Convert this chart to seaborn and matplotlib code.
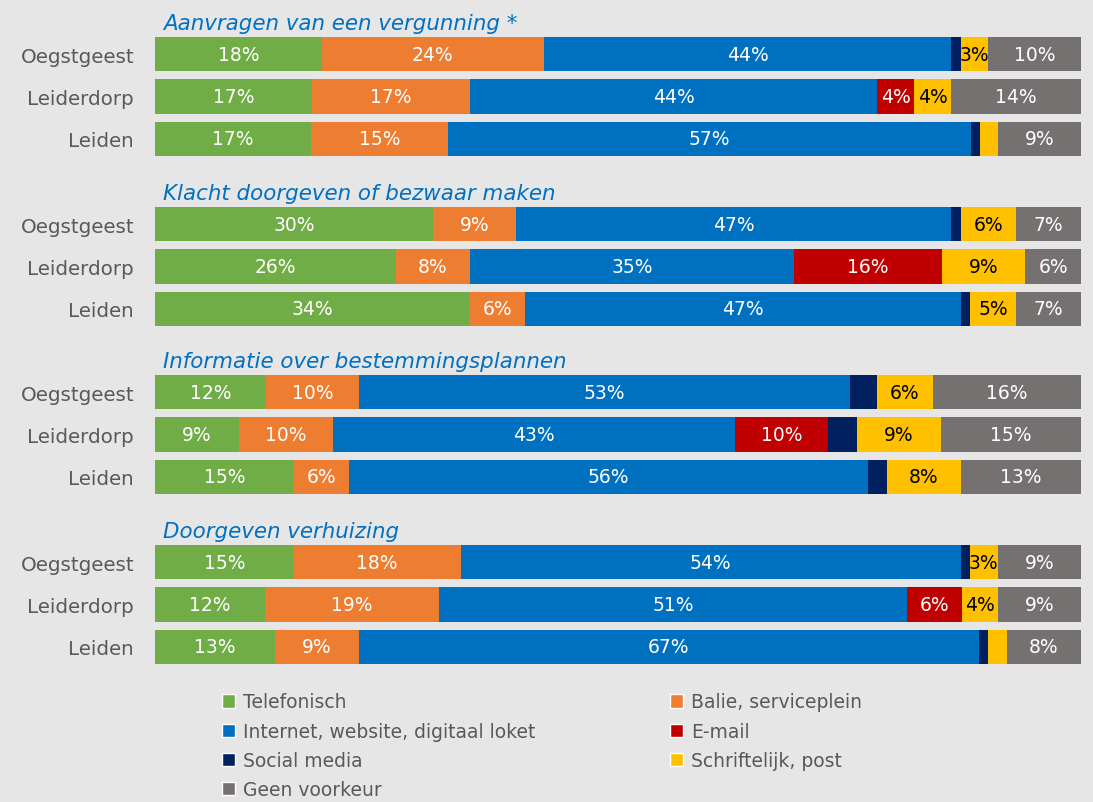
import numpy as np
import pandas as pd
import seaborn as sns
import matplotlib.pyplot as plt
from matplotlib.patches import Patch

# Panels and municipalities
panels = ["Aanvragen van een vergunning *",
          "Klacht doorgeven of bezwaar maken",
          "Informatie over bestemmingsplannen",
          "Doorgeven verhuizing"]
gemeenten = ["Oegstgeest", "Leiderdorp", "Leiden"]

channels = ["Telefonisch", "Balie, serviceplein", "Internet, website, digitaal loket",
            "E-mail", "Social media", "Schriftelijk, post", "Geen voorkeur"]
colors = ["#70ad47", "#ed7d31", "#0070c0", "#c00000", "#002060", "#ffc000", "#767171"]

# percentages, 12 values each: panel by panel, Oegstgeest / Leiderdorp / Leiden
telefonisch = [18, 17, 17, 30, 26, 34, 12, 9, 15, 15, 12, 13]
balie = [24, 17, 15, 9, 8, 6, 10, 10, 6, 18, 19, 9]
internet = [44, 44, 57, 47, 35, 47, 53, 43, 56, 54, 51, 67]
email = [0, 4, 0, 0, 16, 0, 0, 10, 0, 0, 6, 0]
social = [1, 0, 1, 1, 0, 1, 3, 3, 2, 1, 0, 1]
schriftelijk = [3, 4, 2, 6, 9, 5, 6, 9, 8, 3, 4, 2]
geen = [10, 14, 9, 7, 6, 7, 16, 15, 13, 9, 9, 8]

series = [telefonisch, balie, internet, email, social, schriftelijk, geen]

bg = "#e7e6e6"
sns.set_style("white")
plt.rcParams["font.family"] = ["DejaVu Sans"]

fig = plt.figure(figsize=(10.93, 8.03), dpi=100, facecolor=bg)

W, H = 1093, 803
left, width = 155 / W, 926 / W
tops = [34, 204, 372, 542]  # pixel top edge of each panel

for p, title in enumerate(panels):
    ax = fig.add_axes([left, 1 - (tops[p] + 127) / H, width, 127 / H])
    ax.set_facecolor(bg)
    vals = np.array([s[p * 3:(p + 1) * 3] for s in series], dtype=float)
    vals = vals / vals.sum(axis=0) * 100  # each bar fills 100%
    cum = np.cumsum(vals, axis=0)
    # stacked bars: draw cumulative totals from the right end backwards
    for i in range(len(channels) - 1, -1, -1):
        df = pd.DataFrame({"gemeente": gemeenten, "cum": cum[i]})
        sns.barplot(data=df, x="cum", y="gemeente", order=gemeenten, color=colors[i],
                    saturation=1, width=0.81, linewidth=0, ax=ax)
    for i, ch in enumerate(channels):
        for j in range(3):
            raw = series[i][p * 3 + j]
            if raw >= 3 and ch != "Social media":
                ax.text(cum[i, j] - vals[i, j] / 2, j, f"{raw}%", ha="center", va="center",
                        fontsize=13.5, color="black" if ch == "Schriftelijk, post" else "white")
    ax.set_xlim(0, 100)
    ax.set_ylim(2.5, -0.5)
    ax.set_xlabel("")
    ax.set_ylabel("")
    ax.set_xticks([])
    ax.tick_params(axis="y", length=0, pad=15, labelsize=14.3, labelcolor="#595959")
    sns.despine(ax=ax, left=True, bottom=True)
    ax.text(0.009, 1.035, title, transform=ax.transAxes, ha="left", va="baseline",
            fontsize=15.4, style="italic", color="#0070c0")

handles = [Patch(facecolor=c, label=l) for c, l in zip(colors, channels)]
leg_kw = dict(frameon=False, fontsize=13.5, labelcolor="#595959", handlelength=0.7,
              handleheight=0.7, handletextpad=0.45, labelspacing=0.55, borderaxespad=0)
fig.legend(handles=[handles[i] for i in (0, 2, 4, 6)], loc="upper left",
           bbox_to_anchor=(214 / W, 1 - 686 / H), **leg_kw)
fig.legend(handles=[handles[i] for i in (1, 3, 5)], loc="upper left",
           bbox_to_anchor=(662 / W, 1 - 686 / H), **leg_kw)

fig.savefig("out.png", dpi=100, facecolor=bg)
